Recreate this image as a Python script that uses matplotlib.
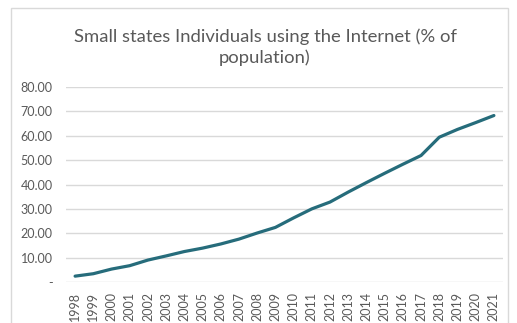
import numpy as np
import matplotlib
matplotlib.use("Agg")
import matplotlib.pyplot as plt
from matplotlib.patches import Rectangle

years = [str(y) for y in range(1998, 2022)]
internet_pct = [2.4, 3.4, 5.3, 6.7, 9.0, 10.7, 12.5, 13.9, 15.6, 17.6, 20.1, 22.4,
                26.3, 30.0, 32.8, 36.9, 40.8, 44.6, 48.3, 51.9, 59.4, 62.6, 65.4, 68.3]
yticks = [0, 10, 20, 30, 40, 50, 60, 70, 80]
ylabels = ["-" if v == 0 else f"{v:.2f}" for v in yticks]

plt.rcParams['font.family'] = ['Lato', 'DejaVu Sans']
grey = "#595959"

fig = plt.figure(figsize=(5.17, 3.23), dpi=100)
fig.patch.set_facecolor("white")

# chart border
fig.patches.append(Rectangle((11 / 517, -0.1), (508 - 11) / 517, 1.1 - 8 / 323,
                             transform=fig.transFigure, fill=False,
                             edgecolor="#D9D9D9", linewidth=1))

ax = fig.add_axes([66 / 517, 1 - 282 / 323, (503 - 66) / 517, (282 - 87) / 323])
x = np.arange(len(years))
ax.plot(x, internet_pct, color="#266C7B", linewidth=2.3, solid_capstyle="round")

ax.set_xlim(-0.5, len(years) - 0.5)
ax.set_ylim(0, 80)
ax.set_yticks(yticks)
ax.set_yticklabels(ylabels)
ax.set_xticks(x)
ax.set_xticklabels(years, rotation=90)
ax.tick_params(axis="both", length=0, colors=grey, labelsize=9)
ax.tick_params(axis="y", pad=9.5)
ax.tick_params(axis="x", pad=7)
ax.grid(axis="y", color="#D9D9D9", linewidth=1)
ax.set_axisbelow(True)
for s in ax.spines.values():
    s.set_visible(False)

fig.text(265 / 517, 1 - 47 / 323,
         "Small states Individuals using the Internet (% of\npopulation)",
         ha="center", va="center", color=grey, fontsize=13.3, linespacing=1.3)

fig.savefig("out.png", dpi=100)
